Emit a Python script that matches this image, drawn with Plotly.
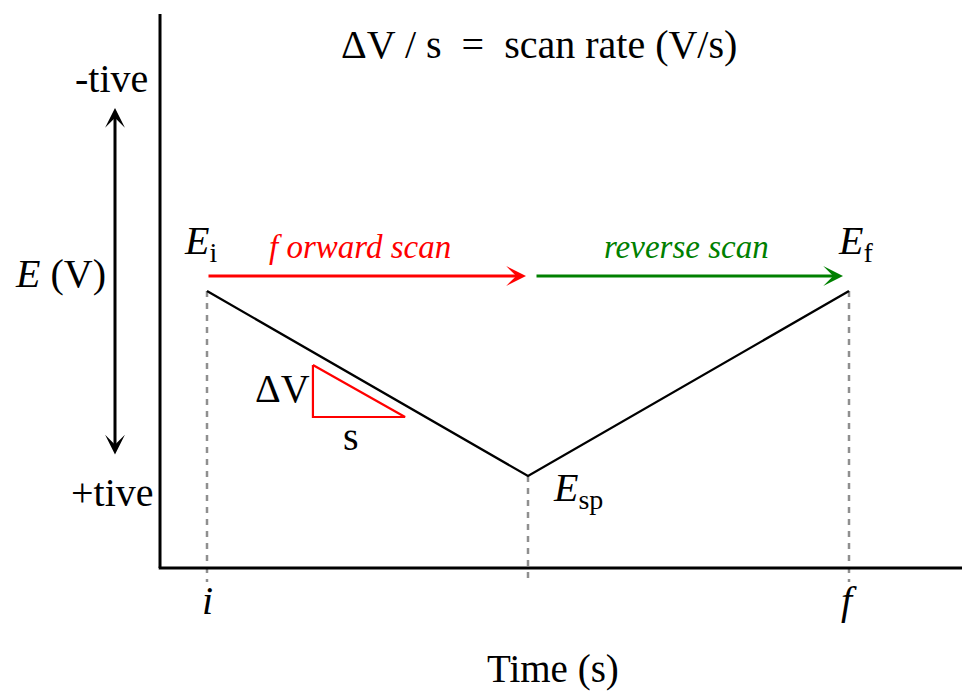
import plotly.graph_objects as go

# potential waveform: start (i), switching point (sp), final (f)
t_pts = [0, 1, 2]
e_pts = [1.0, 0.0, 1.0]
t_labels = ["i", "f"]
t_label_pos = [0, 2]

# little slope triangle (dV over s)
tri_t = [0.33, 0.33, 0.617, 0.33]
tri_e = [0.60, 0.319, 0.319, 0.60]

serif = "Liberation Serif, Times New Roman, serif"
ax_x, ax_y = -0.1464, -0.497
# page body has an 8px margin, so ranges start 8px into the reference frame
x_rng = [(8 - 207) / 321, (978 - 207) / 321]
y_rng = [(476 - 701) / 185, (476 - 8) / 185]


def px_x(p):
    return (p - 207) / 321


def px_y(p):
    return (476 - p) / 185


fig = go.Figure()

# dashed drop lines
for t, e in zip(t_pts, e_pts):
    fig.add_trace(go.Scatter(x=[t, t], y=[e, px_y(582)], mode="lines",
                             line=dict(color="#8f8f8f", width=2.5, dash="6px,6px"),
                             hoverinfo="skip"))

fig.add_trace(go.Scatter(x=t_pts, y=e_pts, mode="lines",
                         line=dict(color="black", width=2.3), hoverinfo="skip"))
fig.add_trace(go.Scatter(x=tri_t, y=tri_e, mode="lines",
                         line=dict(color="red", width=2.2), hoverinfo="skip"))

# axes lines
fig.add_shape(type="line", x0=ax_x, x1=ax_x, y0=px_y(14), y1=ax_y,
              line=dict(color="black", width=3))
fig.add_shape(type="line", x0=ax_x - 0.004, x1=x_rng[1], y0=ax_y, y1=ax_y,
              line=dict(color="black", width=3))

# scan arrows
arr_y = px_y(276)
fig.add_annotation(x=px_x(526), y=arr_y, ax=0, ay=arr_y, xref="x", yref="y",
                   axref="x", ayref="y", text="", showarrow=True,
                   arrowhead=3, arrowsize=1.1, arrowwidth=3, arrowcolor="red",
                   standoff=0)
fig.add_annotation(x=px_x(843), y=arr_y, ax=px_x(535), ay=arr_y, xref="x", yref="y",
                   axref="x", ayref="y", text="", showarrow=True,
                   arrowhead=3, arrowsize=1.1, arrowwidth=3, arrowcolor="green",
                   standoff=0)
# potential double arrow
vx = px_x(115)
fig.add_annotation(x=vx, y=px_y(108), ax=vx, ay=px_y(456),
                   xref="x", yref="y", axref="x", ayref="y", text="",
                   showarrow=True, arrowhead=3, startarrowhead=3,
                   arrowside="end+start", arrowsize=1.1, startarrowsize=1.1,
                   arrowwidth=3, arrowcolor="black", standoff=0, startstandoff=0)


def label(txt, x, y, size=40, color="black", xanchor="center"):
    fig.add_annotation(x=px_x(x), y=px_y(y), xref="x", yref="y", text=txt,
                       showarrow=False, xanchor=xanchor, yanchor="middle",
                       font=dict(family=serif, size=size, color=color))


label("ΔV / s  =  scan rate (V/s)", 539, 44)
label("-tive", 150, 78, xanchor="right")
label("+tive", 156, 492, xanchor="right")
label("<i>E</i> (V)", 60, 273)
label("<i>E</i><sub>i</sub>", 200, 243)
label("<i>E</i><sub>f</sub>", 855, 243)
label("<i>E</i><sub>sp</sub>", 578, 490)
label("<i>f orward scan</i>", 360, 247, 33, "red")
label("<i>reverse scan</i>", 686, 247, 33, "green")
label("ΔV", 282, 388)
label("s", 351, 436)
label("Time (s)", 553, 669, 39)
for lab, t in zip(t_labels, t_label_pos):
    fig.add_annotation(x=t, y=px_y(600), xref="x", yref="y",
                       text="<i>" + lab + "</i>", showarrow=False,
                       font=dict(family=serif, size=40, color="black"))

fig.update_layout(width=970, height=693, margin=dict(l=0, r=0, t=0, b=0),
                  plot_bgcolor="white", paper_bgcolor="white", showlegend=False)
fig.update_xaxes(range=x_rng, visible=False, showgrid=False)
fig.update_yaxes(range=y_rng, visible=False, showgrid=False)

fig.write_html("out.html")
